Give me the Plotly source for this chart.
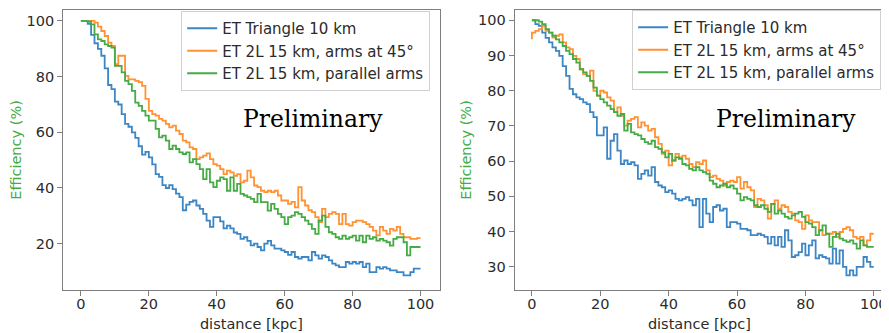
import plotly.graph_objects as go

distance_kpc = list(range(0, 101))

series_names = ["ET Triangle 10 km", "ET 2L 15 km, arms at 45°", "ET 2L 15 km, parallel arms"]
series_colors = ["#3d86c6", "#ff9233", "#45ab45"]

# Left panel
left_triangle = [
    100, 100, 100, 99, 95, 92, 90, 87.5, 83, 77,
    75.5, 71, 70, 66.5, 63, 62, 60, 58, 55, 52,
    53, 51, 48.5, 45, 44, 41, 40, 41, 39.6, 38,
    36.7, 32, 34, 35, 35.5, 33.7, 32.5, 30.7, 28.3, 26,
    29.5, 29.5, 28, 25.5, 26.5, 25.5, 24, 23.5, 21.7, 22.3,
    21, 19.4, 20, 18.8, 17.6, 20, 21, 19.4, 18.2, 18.2,
    17.6, 17, 16, 17, 15.2, 14.6, 15.2, 15.2, 14, 17,
    15.8, 14.6, 15.8, 15.2, 14, 12.8, 12.2, 11.6, 11.6, 13.4,
    12.8, 13.4, 12.8, 13.4, 11.6, 12.8, 9.8, 9.8, 11.6, 11,
    11.6, 11, 10.4, 10.4, 9.8, 9.8, 8.6, 8.6, 9.8, 11,
    11,
]
left_45deg = [
    100, 100, 100, 100, 100, 99.4, 98, 96.4, 94.6, 92.2,
    91, 84.5, 87.5, 87.5, 80.3, 79, 79, 78.5, 78, 76.7,
    72, 67.7, 66.5, 66, 64.8, 64.2, 63, 61.8, 62.4, 60.6,
    59.4, 57, 56.4, 54.6, 54, 50.4, 51, 51.6, 52.4, 50.4,
    48.6, 48, 46.8, 45, 46.2, 45.6, 44.4, 45, 42, 42.6,
    46.2, 43.8, 40.9, 40.3, 39, 38.5, 39, 38.5, 39, 37.3,
    35.5, 35.5, 34.3, 35, 33, 40.3, 35.5, 33.7, 32, 31.3,
    29.5, 27.7, 32.5, 29.5, 30.7, 31.3, 30.7, 27, 30.7, 27,
    26.5, 27.7, 28.3, 28.3, 27.7, 27, 26, 24.7, 23, 26,
    24.7, 23.5, 25.3, 24.7, 26, 23.5, 22.3, 22.3, 21.7, 21.7,
    22,
]
left_parallel = [
    100, 100, 100, 99.8, 98.8, 95.2, 93.4, 92.8, 91.6, 91,
    90.4, 83.9, 83.9, 81.5, 78.5, 77.3, 74.9, 70.7, 69.5, 67.7,
    66, 64.2, 64.2, 61.2, 58.2, 58.8, 57, 54, 55.2, 54,
    52.8, 52.2, 52.8, 49.2, 50.4, 48.6, 46.8, 43.2, 46.8, 42,
    40.3, 42.6, 43.8, 43.2, 39, 43.8, 39, 41.5, 37.9, 37.3,
    36.7, 36.1, 34.9, 37.9, 34.9, 34.9, 31.9, 34.3, 32.5, 30.7,
    29.5, 27, 29.5, 30.1, 31.3, 30.7, 29.5, 28.3, 27, 25.3,
    23.5, 28.3, 30.1, 26, 24.1, 23.5, 22.3, 21.7, 22.9, 21.7,
    22.3, 22.9, 21.1, 22.9, 20.5, 22.9, 21.7, 22.3, 21.1, 21.7,
    21.1, 20.5, 19.3, 21.7, 22.3, 22.3, 20.5, 15.8, 18.8, 18.8,
    18.8,
]

# Right panel
right_triangle = [
    100, 100, 98.9, 98.4, 96.5, 95, 93.7, 92.3, 91.3, 89.9,
    87, 84.2, 80.5, 79, 78.1, 77.6, 76.7, 76.2, 73.9, 72.5,
    67.3, 67.3, 69.6, 60.7, 65.8, 67.7, 63, 59.2, 60.2, 59.2,
    59.7, 58.8, 55, 56.4, 57.4, 55.9, 58.3, 54.1, 53.1, 52.6,
    51.2, 51.7, 50.8, 49.3, 48.9, 49.3, 49.8, 48.9, 47.5, 49.3,
    41.3, 49.3, 45.1, 42.7, 47, 47.5, 46, 46.5, 41.3, 42.7,
    42.7, 42.3, 40.8, 40.8, 40.4, 39, 39, 39.4, 39, 38.5,
    36.6, 38.5, 36.1, 38.5, 35.7, 40.4, 37.5, 32.8, 33.3, 34.2,
    36.6, 33.3, 36.1, 37.5, 32.4, 33.3, 32.8, 32.4, 30.9, 35.2,
    30.9, 34.7, 30, 27.6, 29, 27.6, 30, 30, 32.8, 31.4,
    30,
]
right_45deg = [
    94.6, 96.5, 97, 97.5, 98.4, 97, 96.5, 95.1, 95.6, 96,
    93.7, 92.3, 91.8, 89.9, 89, 86.1, 84.7, 84.2, 85.7, 80,
    78.6, 80, 79.5, 78.1, 77.2, 73.9, 75.3, 72.9, 70.1, 71.5,
    72, 72.5, 69.6, 71, 70.1, 68.7, 69.2, 66.8, 64.9, 62.1,
    63, 58.8, 60.2, 62.1, 61.1, 61.6, 60.7, 59.2, 58.3, 59.7,
    59.2, 60.2, 57.4, 55.5, 55.9, 55, 54.5, 53.1, 54.1, 54.5,
    54.1, 55.5, 52.2, 54.1, 52.6, 51.7, 47, 49.3, 48.9, 47.5,
    43.7, 47.9, 48.9, 46.5, 47.5, 47, 45.6, 45.1, 43.2, 42.7,
    40.8, 44.6, 43.2, 42.7, 42.7, 40.4, 39, 39.4, 39.4, 39.9,
    38.5, 39.9, 40.8, 41.3, 40.4, 38.5, 38, 38.5, 36.1, 37.5,
    39.4,
]
right_parallel = [
    100, 100, 100, 99.6, 98.9, 97.5, 96.5, 95.6, 94.6, 93.7,
    92.7, 91.3, 90.4, 89, 88, 86.1, 85.2, 84.2, 82.8, 80.9,
    78.6, 77.6, 76.7, 75.8, 74.8, 73.9, 72.9, 73.4, 68.7, 70.6,
    68.2, 67.7, 67.3, 66.3, 65.4, 64.9, 65.8, 64, 63.5, 62.5,
    61.1, 62.1, 60.2, 61.1, 60.7, 59.2, 58.8, 57.8, 57.4, 58.3,
    57.4, 56.9, 56.4, 54.5, 53.6, 52.6, 53.1, 53.6, 52.6, 53.1,
    52.2, 50.8, 48.9, 49.8, 49.3, 48.9, 47.5, 47, 47.5, 46.5,
    45.6, 47.9, 45.1, 46, 45.1, 44.2, 43.7, 44.6, 45.1, 45.6,
    44.2, 42.7, 42.3, 41.3, 39, 40.4, 41.8, 39.4, 35.7, 38.5,
    39.4, 38, 37.5, 37.1, 37.5, 36.6, 35.2, 37.5, 36.1, 35.7,
    35.7,
]

left_yticks = [20, 40, 60, 80, 100]
right_yticks = [30, 40, 50, 60, 70, 80, 90, 100]
xticks = [0, 20, 40, 60, 80, 100]

# The page places the figure 8 px from the window's top-left corner.
OFF = 8
W, H = 889 - OFF, 333 - OFF


def fx(px):
    return (px - OFF) / W


def fy(py):
    return 1 - (py - OFF) / H


FONT = "DejaVu Sans"
FS = 14.5
TXT = "#2b2b2b"

fig = go.Figure()
for vals, name, col in zip([left_triangle, left_45deg, left_parallel], series_names, series_colors):
    fig.add_trace(go.Scatter(x=distance_kpc, y=vals, name=name, mode="lines",
                             line=dict(color=col, width=1.8, shape="vh"),
                             xaxis="x", yaxis="y", legend="legend"))
for vals, name, col in zip([right_triangle, right_45deg, right_parallel], series_names, series_colors):
    fig.add_trace(go.Scatter(x=distance_kpc, y=vals, name=name, mode="lines",
                             line=dict(color=col, width=1.8, shape="vh"),
                             xaxis="x2", yaxis="y2", legend="legend2"))

axis_common = dict(showline=True, mirror=True, linecolor="#7f7f7f", linewidth=1.3,
                   ticks="outside", ticklen=5, tickwidth=1.2, tickcolor="#7f7f7f",
                   showgrid=False, zeroline=False,
                   tickfont=dict(family=FONT, size=FS, color=TXT))
xtitle_font = dict(family=FONT, size=FS, color=TXT)
ytitle_font = dict(family=FONT, size=FS, color="#45ab45")

TOP = 8.8  # top spine (the reference's is slightly higher, outside the reachable area)

fig.update_layout(
    width=W, height=H,
    margin=dict(l=0, r=0, t=0, b=0),
    paper_bgcolor="white", plot_bgcolor="white",
    showlegend=True,
    xaxis=dict(domain=[fx(63.5), fx(441.5)], range=[-5.2, 105.6], tickvals=xticks,
               ticklabelstandoff=-5,
               title=dict(text="distance [kpc]", standoff=8, font=xtitle_font),
               anchor="y", **axis_common),
    yaxis=dict(domain=[fy(290), fy(TOP)], range=[3.3, 100 + (20 - TOP) / 2.79],
               tickvals=left_yticks,
               title=dict(text="Efficiency (%)", standoff=1, font=ytitle_font),
               anchor="x", **axis_common),
    xaxis2=dict(domain=[fx(517), fx(888)], range=[-5.04, 103.0], tickvals=xticks,
                ticklabelstandoff=-5, ticklabeloverflow="allow",
                title=dict(text="distance [kpc]", standoff=8, font=xtitle_font),
                anchor="y2", **axis_common),
    yaxis2=dict(domain=[fy(290), fy(TOP)], range=[23.4, 100 + (19.3 - TOP) / 3.533],
                tickvals=right_yticks,
                title=dict(text="Efficiency (%)", standoff=2, font=ytitle_font),
                anchor="x2", **axis_common),
    legend=dict(x=fx(182), y=fy(10), xanchor="left", yanchor="top",
                bgcolor="rgba(255,255,255,0.85)", bordercolor="#d0d0d0", borderwidth=1,
                font=dict(family=FONT, size=15, color=TXT), itemwidth=30),
    legend2=dict(x=fx(635), y=fy(9), xanchor="left", yanchor="top",
                 bgcolor="rgba(255,255,255,0.85)", bordercolor="#d0d0d0", borderwidth=1,
                 font=dict(family=FONT, size=15, color=TXT), itemwidth=30),
    annotations=[
        dict(text="Preliminary", x=fx(314), y=fy(118), xref="paper", yref="paper",
             xanchor="center", yanchor="middle", showarrow=False,
             font=dict(family="DejaVu Serif", size=23.5, color="black")),
        dict(text="Preliminary", x=fx(789.5), y=fy(118), xref="paper", yref="paper",
             xanchor="center", yanchor="middle", showarrow=False,
             font=dict(family="DejaVu Serif", size=23.5, color="black")),
    ],
)

fig.write_html("out.html")
